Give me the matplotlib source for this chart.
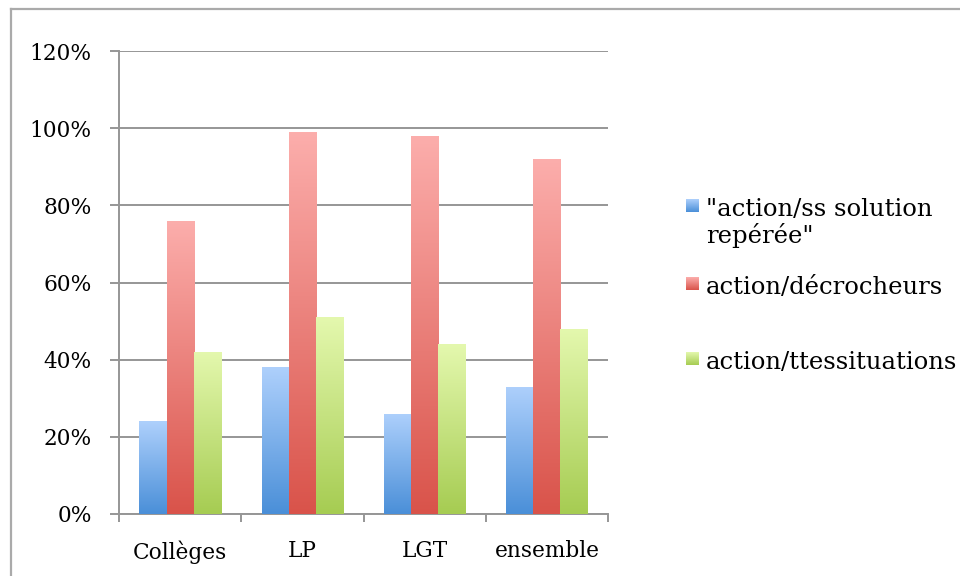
import numpy as np
import matplotlib
matplotlib.use("Agg")
from matplotlib import pyplot as plt
from matplotlib.lines import Line2D
from matplotlib.colors import LinearSegmentedColormap

# Data (percent)
categories = ['Collèges', 'LP', 'LGT', 'ensemble']
series_names = ['"action/ss solution\nrepérée"', 'action/décrocheurs', 'action/ttessituations']
ss_solution = [24, 38, 26, 33]
decrocheurs = [76, 99, 98, 92]
ttes_situations = [42, 51, 44, 48]
yticks = [0, 20, 40, 60, 80, 100, 120]

# gradient colours: (bottom, top)
grad_colors = [('#4a8fd8', '#aed0fc'),
               ('#d9534a', '#fcaeac'),
               ('#a6cc52', '#e4f8ae')]

plt.rcParams['font.family'] = ['DejaVu Serif']

W, H = 960, 576
fig = plt.figure(figsize=(9.6, 5.76), dpi=100)
ax = fig.add_axes([119/W, 1-514/H, (608-119)/W, (514-51)/H])

grid_col = '#969696'
x = np.arange(len(categories))
w = 0.222
offsets = [-w, 0, w]
values = [ss_solution, decrocheurs, ttes_situations]

grad = np.linspace(0, 1, 256).reshape(-1, 1)
cmaps = [LinearSegmentedColormap.from_list('g%d' % i, [c0, c1])
         for i, (c0, c1) in enumerate(grad_colors)]
for vals, off, cmap in zip(values, offsets, cmaps):
    bars = ax.bar(x + off, vals, w, color='none', edgecolor='none', zorder=3)
    for b in bars:
        x0, y0 = b.get_x(), b.get_y()
        bw, bh = b.get_width(), b.get_height()
        im = ax.imshow(grad, cmap=cmap, origin='lower', aspect='auto',
                       extent=[x0, x0 + bw, y0, y0 + bh], zorder=3)
        im.set_clip_path(b)

ax.set_xlim(-0.5, len(categories) - 0.5)
ax.set_ylim(0, 120)
ax.set_yticks(yticks)
ax.set_yticklabels(['%d%%' % t for t in yticks])
ax.set_xticks(x)
ax.set_xticklabels(categories)
ax.set_xticks(np.arange(-0.5, len(categories)), minor=True)
ax.tick_params(axis='x', which='major', length=0, pad=19, labelsize=15.6)
ax.tick_params(axis='x', which='minor', length=6, color=grid_col, width=1.4, direction='out')
ax.tick_params(axis='y', length=6.5, color=grid_col, width=1.4, pad=13, labelsize=15.6)
ax.yaxis.grid(True, color=grid_col, linewidth=1.4, zorder=0)
ax.set_axisbelow(True)
for s in ['top', 'right']:
    ax.spines[s].set_visible(False)
for s in ['left', 'bottom']:
    ax.spines[s].set_color(grid_col)
    ax.spines[s].set_linewidth(1.4)

# legend, drawn line by line with small gradient squares
baselines = [216, 294, 369]
line_gap = 27
for cmap, name, by in zip(cmaps, series_names, baselines):
    key = fig.add_axes([686/W, 1-(by-4)/H, 13/W, 13/H])
    key.imshow(grad, cmap=cmap, origin='lower', aspect='auto')
    key.axis('off')
    for i, line in enumerate(name.split('\n')):
        fig.text(706/W, 1-(by + i*line_gap)/H, line, fontsize=17.5,
                 va='baseline', ha='left')

# outer frame (only top and left edges visible)
fig.add_artist(Line2D([11/W, 1.0], [1-9/H, 1-9/H], color='#aaaaaa', linewidth=1.6,
                      transform=fig.transFigure))
fig.add_artist(Line2D([11/W, 11/W], [0, 1-9/H], color='#aaaaaa', linewidth=1.6,
                      transform=fig.transFigure))

fig.savefig('out.png', dpi=100)
